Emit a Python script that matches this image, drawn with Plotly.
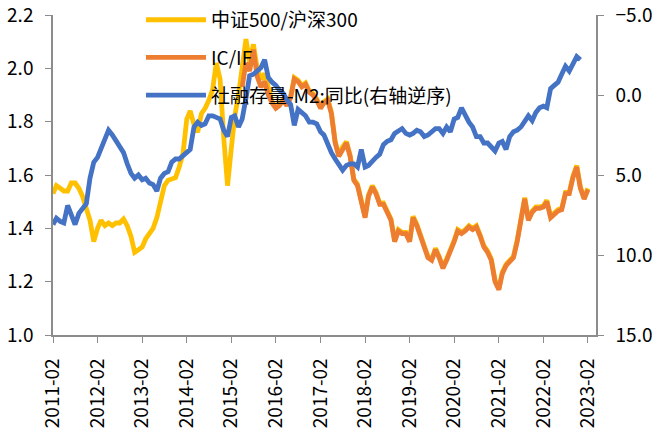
import pandas as pd
import plotly.graph_objects as go

# 中证500/沪深300 monthly, 2011-02 .. 2023-02
zz500_hs300 = [
    1.53, 1.56, 1.55, 1.54, 1.54, 1.57, 1.57, 1.55, 1.52, 1.47, 1.43, 1.35,
    1.40, 1.43, 1.41, 1.42, 1.41, 1.42, 1.42, 1.435, 1.41, 1.37, 1.31, 1.32,
    1.33, 1.36, 1.38, 1.40, 1.44, 1.50, 1.56, 1.58, 1.585, 1.59, 1.63, 1.68,
    1.81, 1.84, 1.79, 1.76, 1.83, 1.85, 1.88, 1.92, 2.02, 1.96, 1.74, 1.56,
    1.70, 1.82, 1.90, 2.00, 2.11, 2.02, 2.09, 2.00, 1.96, 1.98, 1.92, 1.875,
    1.855, 1.865, 1.885, 1.865, 1.895, 1.965, 1.955, 1.935, 1.945, 1.915, 1.905, 1.885,
    1.855, 1.875, 1.885, 1.835, 1.725, 1.675, 1.705, 1.725, 1.675, 1.585, 1.565, 1.505,
    1.445, 1.525, 1.56, 1.535, 1.495, 1.495, 1.465, 1.435, 1.355, 1.395, 1.385, 1.385,
    1.355, 1.445, 1.415, 1.375, 1.335, 1.295, 1.285, 1.325, 1.295, 1.255, 1.285, 1.315,
    1.355, 1.395, 1.385, 1.395, 1.41, 1.40, 1.41, 1.375, 1.335, 1.315, 1.285, 1.205,
    1.175, 1.235, 1.265, 1.28, 1.295, 1.355, 1.445, 1.515, 1.435, 1.465, 1.48, 1.48,
    1.485, 1.505, 1.445, 1.46, 1.47, 1.475, 1.535, 1.535, 1.595, 1.635, 1.555, 1.515,
    1.55,
]

# IC/IF monthly, 2015-05 .. 2023-02
ic_if = [
    1.93, 2.02, 1.99, 2.07, 1.97, 1.93, 1.95, 1.90, 1.87, 1.85, 1.86, 1.88,
    1.86, 1.89, 1.96, 1.95, 1.93, 1.94, 1.91, 1.90, 1.88, 1.85, 1.87, 1.88,
    1.83, 1.72, 1.67, 1.70, 1.72, 1.67, 1.58, 1.56, 1.50, 1.44, 1.52, 1.555,
    1.53, 1.49, 1.49, 1.46, 1.43, 1.35, 1.39, 1.38, 1.38, 1.35, 1.44, 1.41,
    1.37, 1.33, 1.29, 1.28, 1.32, 1.29, 1.25, 1.28, 1.31, 1.35, 1.39, 1.38,
    1.39, 1.405, 1.395, 1.405, 1.37, 1.33, 1.31, 1.28, 1.20, 1.17, 1.23, 1.26,
    1.275, 1.29, 1.35, 1.44, 1.51, 1.43, 1.46, 1.475, 1.475, 1.48, 1.50, 1.44,
    1.455, 1.465, 1.47, 1.53, 1.53, 1.59, 1.63, 1.55, 1.51, 1.545,
]

# 社融存量-M2:同比 (right axis, reversed), 2011-02 .. 2022-12
tsf_m2 = [
    8.1, 7.7, 7.9, 8.0, 6.9, 7.5, 8.1, 7.4, 7.1, 6.8, 5.2, 4.2,
    3.9, 3.4, 2.8, 2.2, 2.5, 2.9, 3.3, 3.6, 4.3, 4.9, 5.2, 5.0,
    5.3, 5.2, 5.5, 5.6, 6.0, 5.2, 4.9, 4.8, 4.2, 4.0, 4.0, 3.8,
    3.6, 3.4, 2.0, 1.7, 1.9, 1.8, 1.3, 1.3, 1.4, 1.5, 2.2, 2.6,
    1.4, 1.3, 2.0, 1.5, 0.2, -1.2, -1.3, -1.5, -1.7, -2.2, -1.1, -0.8,
    -0.6, -0.3, -0.1, 0.3, 0.6, 1.9, 0.9, 1.1, 1.3, 1.7, 1.7, 1.8,
    2.3, 2.5, 3.1, 3.6, 4.0, 4.4, 4.7, 4.4, 4.3, 4.3, 4.5, 3.4,
    4.5, 4.4, 4.1, 3.9, 3.7, 3.1, 2.9, 2.8, 2.4, 2.2, 2.1, 2.4,
    2.5, 2.4, 2.2, 2.3, 2.6, 2.5, 2.3, 2.1, 2.1, 2.4, 2.0, 2.3,
    1.5, 1.4, 0.8, 1.3, 1.7, 2.0, 2.6, 2.6, 3.0, 3.0, 3.3, 3.5,
    3.0, 2.9, 3.4, 2.6, 2.3, 2.2, 2.0, 1.7, 1.3, 1.6, 1.1, 0.8,
    0.7, 0.8, -0.4, -0.6, -0.8, -1.3, -1.8, -1.5, -1.9, -2.4, -2.2,
]

names = ["中证500/沪深300", "IC/IF", "社融存量-M2:同比(右轴逆序)"]
colors = ["#FFC000", "#ED7D31", "#4472C4"]

dates_a = pd.date_range("2011-02-01", periods=len(zz500_hs300), freq="MS")
dates_b = pd.date_range("2015-05-01", periods=len(ic_if), freq="MS")
dates_c = pd.date_range("2011-02-01", periods=len(tsf_m2), freq="MS")

font_family = "Noto Sans CJK SC, Noto Sans, sans-serif"
axis_col = "#8c8c8c"

fig = go.Figure()
fig.add_trace(go.Scatter(x=dates_a, y=zz500_hs300, name=names[0], mode="lines",
                         line=dict(color=colors[0], width=4.8), legendgroup="a"))
fig.add_trace(go.Scatter(x=dates_b, y=ic_if, name=names[1], mode="lines",
                         line=dict(color=colors[1], width=4.8), legendgroup="b"))
fig.add_trace(go.Scatter(x=dates_c, y=tsf_m2, name=names[2], mode="lines",
                         line=dict(color=colors[2], width=4.8), yaxis="y2", legendgroup="c"))

fig.update_layout(
    width=657, height=435,
    margin=dict(l=53, r=61, t=15, b=100, autoexpand=False),
    paper_bgcolor="white", plot_bgcolor="white",
    font=dict(family=font_family, size=19, color="#000000"),
    showlegend=True,
    legend=dict(x=0.162, y=1.044, xanchor="left", yanchor="top",
                bgcolor="rgba(0,0,0,0)", font=dict(size=19),
                itemwidth=60, traceorder="grouped", tracegroupgap=10),
    xaxis=dict(type="date", range=["2011-02-01", "2023-04-08"], automargin=False,
               tick0="2011-02-01", dtick="M12", tickformat="%Y-%m",
               tickangle=-90, ticks="outside", ticklen=6, tickcolor=axis_col,
               showline=True, linecolor=axis_col, linewidth=1.5,
               showgrid=False, zeroline=False, ticklabelstandoff=8,
               ticklabeloverflow="allow", tickfont=dict(size=19)),
    yaxis=dict(range=[1.0, 2.2], dtick=0.2, tickformat=".1f", automargin=False,
               ticks="outside", ticklen=6, tickcolor=axis_col,
               showline=True, linecolor=axis_col, linewidth=1.5,
               showgrid=False, zeroline=False, ticklabelstandoff=8,
               ticklabeloverflow="allow"),
    yaxis2=dict(range=[15, -5], dtick=5, tickformat=".1f", overlaying="y",
                side="right", ticks="outside", ticklen=6, tickcolor=axis_col,
                automargin=False, ticklabeloverflow="allow",
                showline=True, linecolor=axis_col, linewidth=1.5,
                showgrid=False, zeroline=False, ticklabelstandoff=8),
)

fig.write_html("out.html", config={"displayModeBar": False},
               post_script="document.body.style.margin='0';")
